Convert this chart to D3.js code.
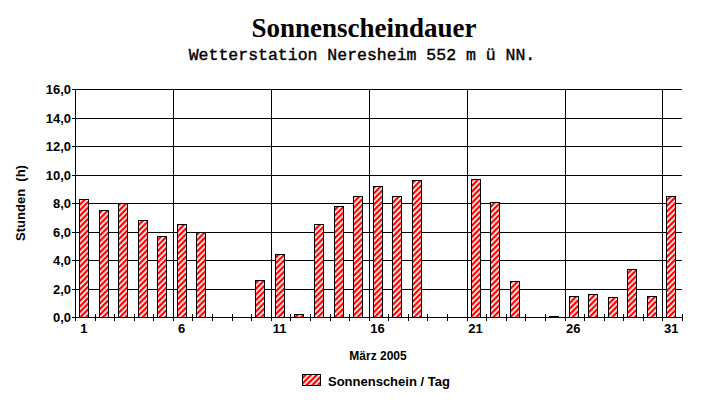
<!DOCTYPE html>
<html>
<head>
<meta charset="utf-8">
<script src="https://cdn.jsdelivr.net/npm/d3@7"></script>
<style>
  body { margin: 0; background: #fff; }
  svg { display: block; }
</style>
</head>
<body>
<script>
// Sunshine hours per day, Neresheim, March 2005
const days = d3.range(1, 32)
const sunHours = [8.3, 7.5, 8.0, 6.8, 5.7, 6.5, 6.0, 0, 0, 2.6,
                  4.4, 0.2, 6.5, 7.8, 8.5, 9.2, 8.5, 9.6, 0, 0,
                  9.7, 8.05, 2.5, 0, 0.1, 1.5, 1.6, 1.4, 3.35, 1.5, 8.5]
const yTicks = [0, 2, 4, 6, 8, 10, 12, 14, 16]
const xLabelDays = [1, 6, 11, 16, 21, 26, 31]
const gridDays = [6, 11, 16, 21, 26, 31]

const width = 727
const height = 404
// plot area (pixels)
const plotLeft = 75, plotRight = 682, plotTop = 89, plotBottom = 317
const sans = "'Liberation Sans', Arial, sans-serif"

const svg = d3.select("body").append("svg")
    .attr("width", width)
    .attr("height", height)

svg.append("rect").attr("width", width).attr("height", height).attr("fill", "#fff")

// red / white diagonal hatching
const defs = svg.append("defs")
const pat = defs.append("pattern")
    .attr("id", "hatch")
    .attr("patternUnits", "userSpaceOnUse")
    .attr("width", 4)
    .attr("height", 4)
    .attr("patternTransform", "rotate(45)")
pat.append("rect").attr("width", 4).attr("height", 4).attr("fill", "#fff")
pat.append("rect").attr("width", 2.3).attr("height", 4).attr("fill", "#ff0000")

const x = d3.scaleBand().domain(days).range([plotLeft, plotRight])
const y = d3.scaleLinear().domain([0, 16]).range([plotBottom, plotTop])
const fmt = d3.formatLocale({ decimal: ",", thousands: ".", grouping: [3], currency: ["", "€"] }).format(".1f")

// Title
svg.append("text")
    .attr("x", 364).attr("y", 37)
    .attr("text-anchor", "middle")
    .attr("font-family", "'Liberation Serif', 'Times New Roman', serif")
    .attr("font-weight", "bold")
    .attr("font-size", 27)
    .text("Sonnenscheindauer")

svg.append("text")
    .attr("x", 362).attr("y", 60)
    .attr("text-anchor", "middle")
    .attr("font-family", "'Liberation Mono', 'Courier New', monospace")
    .attr("font-size", 16.5)
    .attr("stroke", "#000")
    .attr("stroke-width", 0.4)
    .text("Wetterstation Neresheim 552 m ü NN.")

// horizontal grid lines
svg.append("g")
    .attr("stroke", "#000")
    .selectAll("line")
    .data(yTicks)
    .join("line")
      .attr("x1", plotLeft - 3).attr("x2", plotRight)
      .attr("y1", d => Math.round(y(d)) + 0.5)
      .attr("y2", d => Math.round(y(d)) + 0.5)

// vertical grid lines
svg.append("g")
    .attr("stroke", "#000")
    .selectAll("line")
    .data(gridDays)
    .join("line")
      .attr("x1", d => Math.round(x(d)) + 0.5)
      .attr("x2", d => Math.round(x(d)) + 0.5)
      .attr("y1", plotTop).attr("y2", plotBottom + 3)

// x tick marks at band boundaries
svg.append("g")
    .attr("stroke", "#000")
    .selectAll("line")
    .data(days.slice(1).map(d => x(d)).concat([plotRight]))
    .join("line")
      .attr("x1", d => Math.round(d) + 0.5)
      .attr("x2", d => Math.round(d) + 0.5)
      .attr("y1", plotBottom - 3).attr("y2", plotBottom + 4)

// y axis line
svg.append("line")
    .attr("stroke", "#000")
    .attr("x1", plotLeft + 0.5).attr("x2", plotLeft + 0.5)
    .attr("y1", plotTop).attr("y2", plotBottom + 4)

// bars
svg.append("g")
    .selectAll("rect")
    .data(sunHours.map((v, i) => ({ day: days[i], v })).filter(d => d.v > 0))
    .join("rect")
      .attr("x", d => Math.round(x(d.day)) + 4.5)
      .attr("width", 9)
      .attr("y", d => Math.round(y(d.v)) + 0.5)
      .attr("height", d => Math.max(0, plotBottom - Math.round(y(d.v))))
      .attr("fill", "url(#hatch)")
      .attr("stroke", "#000")

// y tick labels
svg.append("g")
    .attr("font-family", sans)
    .attr("font-weight", "bold")
    .attr("font-size", 13)
    .attr("text-anchor", "end")
    .selectAll("text")
    .data(yTicks)
    .join("text")
      .attr("x", plotLeft - 4)
      .attr("y", d => y(d) + 5)
      .text(d => fmt(d))

// x tick labels
svg.append("g")
    .attr("font-family", sans)
    .attr("font-weight", "bold")
    .attr("font-size", 13)
    .attr("text-anchor", "middle")
    .selectAll("text")
    .data(xLabelDays)
    .join("text")
      .attr("x", d => x(d) + x.bandwidth() / 2 - 1)
      .attr("y", 333)
      .text(d => d)

// axis titles
svg.append("text")
    .attr("x", 378).attr("y", 360)
    .attr("text-anchor", "middle")
    .attr("font-family", sans)
    .attr("font-weight", "bold")
    .attr("font-size", 12)
    .text("März 2005")

svg.append("text")
    .attr("transform", `translate(25,${(plotTop + plotBottom) / 2}) rotate(-90)`)
    .attr("text-anchor", "middle")
    .attr("font-family", sans)
    .attr("font-weight", "bold")
    .attr("font-size", 13)
    .style("white-space", "pre")
    .text("Stunden  (h)")

// legend
svg.append("rect")
    .attr("x", 302.5).attr("y", 374.5)
    .attr("width", 18).attr("height", 11)
    .attr("fill", "url(#hatch)")
    .attr("stroke", "#000")

svg.append("text")
    .attr("x", 328).attr("y", 386)
    .attr("font-family", sans)
    .attr("font-weight", "bold")
    .attr("font-size", 13)
    .text("Sonnenschein / Tag")
</script>
</body>
</html>
